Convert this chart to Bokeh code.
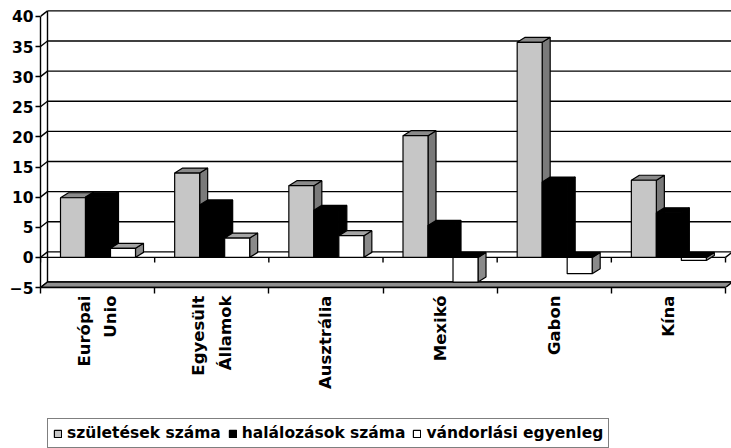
import math
from bokeh.plotting import figure
from bokeh.layouts import column
from bokeh.models import (Range1d, LinearAxis, FixedTicker, ColumnDataSource,
                          Legend, LegendItem)
from bokeh.embed import file_html
from bokeh.resources import INLINE

# ---------------- data ----------------
categories = ["Európai\nUnio", "Egyesült\nÁllamok", "Ausztrália", "Mexikó", "Gabon", "Kína"]
births = [9.9, 14.0, 11.9, 20.2, 35.7, 12.8]
deaths = [10.0, 8.7, 7.8, 5.3, 12.5, 7.4]
migration = [1.5, 3.2, 3.6, -4.1, -2.7, -0.5]
series_names = ["születések száma", "halálozások száma", "vándorlási egyenleg"]
y_ticks = [-5, 0, 5, 10, 15, 20, 25, 30, 35, 40]

# ---------------- geometry / style ----------------
W = 731
H1, H2 = 412, 36               # chart part / legend strip
LEFT = 40
FRAME_H = 287
PX_X = 114.17          # pixels per category on the front plane
PX_Y = 6.025           # pixels per unit on the value axis
n = len(categories)
y_min, y_max = y_ticks[0], y_ticks[-1]
x_end = (W - LEFT) / PX_X
y_end = y_min + FRAME_H / PX_Y

DXW, DYW = 7 / PX_X, 5.5 / PX_Y     # depth of walls / floor
DXB, DYB = 8 / PX_X, 5 / PX_Y       # depth of bars
BAR_W = 25 / PX_X
BAR_OFF = 20 / PX_X

p = figure(width=W, height=H1, x_range=Range1d(0, x_end), y_range=Range1d(y_min, y_end),
           output_backend="svg", toolbar_location=None,
           x_axis_type=None, y_axis_type=None,
           min_border_left=LEFT, min_border_right=0, min_border_top=0,
           min_border_bottom=H1 - FRAME_H)
p.outline_line_color = None
p.background_fill_color = "white"
p.border_fill_color = "white"

LW = 1.4
# back wall gridlines
p.segment(x0=[DXW] * len(y_ticks), y0=[v + DYW for v in y_ticks],
          x1=[n + DXW] * len(y_ticks), y1=[v + DYW for v in y_ticks],
          line_color="black", line_width=LW)
# diagonal connectors from front ticks to back wall
p.segment(x0=[0] * len(y_ticks), y0=y_ticks,
          x1=[DXW] * len(y_ticks), y1=[v + DYW for v in y_ticks],
          line_color="black", line_width=LW)
# back left corner
p.segment(x0=[DXW], y0=[y_min + DYW], x1=[DXW], y1=[y_max + DYW],
          line_color="black", line_width=LW)
# floor
p.patch(x=[0, n, n + DXW, DXW], y=[y_min, y_min, y_min + DYW, y_min + DYW],
        fill_color="#8f8f8f", line_color="black", line_width=LW)
# zero plane front edge with category ticks
p.segment(x0=[0], y0=[0], x1=[n], y1=[0], line_color="black", line_width=LW)
p.segment(x0=list(range(n + 1)), y0=[0] * (n + 1), x1=list(range(n + 1)),
          y1=[-5 / PX_Y] * (n + 1), line_color="black", line_width=LW)
p.segment(x0=[n], y0=[0], x1=[n + DXW], y1=[DYW], line_color="black", line_width=LW)

# ---------------- 3D bars ----------------
series = [births, deaths, migration]
styles = [
    dict(front="#c6c6c6", top="#8a8a8a", side="#7a7a7a", neg_top="#000000"),
    dict(front="#000000", top="#000000", side="#000000", neg_top="#000000"),
    dict(front="#ffffff", top="#a4a4a4", side="#8a8a8a", neg_top="#000000"),
]
for s, (vals, st) in enumerate(zip(series, styles)):
    x0 = [i + BAR_OFF + s * BAR_W for i in range(n)]
    x1 = [a + BAR_W for a in x0]
    lo = [min(0, v) for v in vals]
    hi = [max(0, v) for v in vals]
    side_src = ColumnDataSource(dict(
        xs=[[b, b + DXB, b + DXB, b] for b in x1],
        ys=[[l, l + DYB, h + DYB, h] for l, h in zip(lo, hi)]))
    top_src = ColumnDataSource(dict(
        xs=[[a, b, b + DXB, a + DXB] for a, b in zip(x0, x1)],
        ys=[[h, h, h + DYB, h + DYB] for h in hi],
        c=[st["top"] if v >= 0 else st["neg_top"] for v in vals]))
    front_src = ColumnDataSource(dict(left=x0, right=x1, bottom=lo, top=hi))
    p.patches("xs", "ys", source=side_src, fill_color=st["side"],
              line_color="black", line_width=1.2)
    p.patches("xs", "ys", source=top_src, fill_color="c",
              line_color="black", line_width=1.2)
    p.quad(left="left", right="right", bottom="bottom", top="top", source=front_src,
           fill_color=st["front"], line_color="black", line_width=1.2)

# ---------------- axes ----------------
yaxis = LinearAxis(ticker=FixedTicker(ticks=y_ticks), bounds=(y_min, y_max))
yaxis.axis_line_width = LW
yaxis.major_tick_line_width = LW
yaxis.major_tick_out = 5
yaxis.major_tick_in = 0
yaxis.minor_tick_line_color = None
yaxis.major_label_standoff = 2
yaxis.major_label_text_font = "DejaVu Sans"
yaxis.major_label_text_font_style = "bold"
yaxis.major_label_text_font_size = "15.5px"
yaxis.major_label_text_color = "black"
p.add_layout(yaxis, "left")

centers = [i + 0.5 for i in range(n)]
xaxis = LinearAxis(ticker=FixedTicker(ticks=centers, minor_ticks=list(range(n + 1))),
                   bounds=(0, n))
xaxis.major_label_overrides = {c: lab for c, lab in zip(centers, categories)}
xaxis.axis_line_width = LW
xaxis.major_tick_out = 0
xaxis.major_tick_in = 0
xaxis.minor_tick_out = 6
xaxis.minor_tick_in = 0
xaxis.minor_tick_line_width = LW
xaxis.minor_tick_line_color = "black"
xaxis.major_label_orientation = math.pi / 2
xaxis.major_label_standoff = 2
xaxis.major_label_text_font = "DejaVu Sans"
xaxis.major_label_text_font_style = "bold"
xaxis.major_label_text_font_size = "16.5px"
xaxis.major_label_text_line_height = 1.4
xaxis.major_label_text_color = "black"
p.add_layout(xaxis, "below")

# ---------------- legend strip ----------------
q = figure(width=W, height=H2, x_range=Range1d(0, 1), y_range=Range1d(0, 1),
           output_backend="svg", toolbar_location=None,
           x_axis_type=None, y_axis_type=None,
           min_border_left=0, min_border_right=0, min_border_top=0, min_border_bottom=0)
q.outline_line_color = None
q.background_fill_color = "white"
q.border_fill_color = "white"
# legend proxies: one swatch per series, kept outside the visible range
legend_renderers = []
for st in styles:
    r = q.quad(left=[-3], right=[-2], bottom=[-3], top=[-2],
               fill_color=st["front"], line_color="black", line_width=1.2)
    legend_renderers.append(r)

legend = Legend(items=[LegendItem(label=nm, renderers=[r])
                       for nm, r in zip(series_names, legend_renderers)],
                orientation="horizontal", location=(7, 0))
legend.label_text_font = "DejaVu Sans"
legend.label_text_font_style = "bold"
legend.label_text_font_size = "15.5px"
legend.label_text_color = "black"
legend.glyph_width = 9
legend.glyph_height = 9
legend.label_height = 15
legend.label_standoff = 5
legend.spacing = 7
legend.padding = 5
legend.margin = 0
legend.border_line_color = "black"
legend.border_line_width = 1.5
legend.background_fill_color = "white"
legend.background_fill_alpha = 1.0
q.add_layout(legend)

open("out.html", "w").write(file_html(column(p, q, spacing=0), INLINE))
